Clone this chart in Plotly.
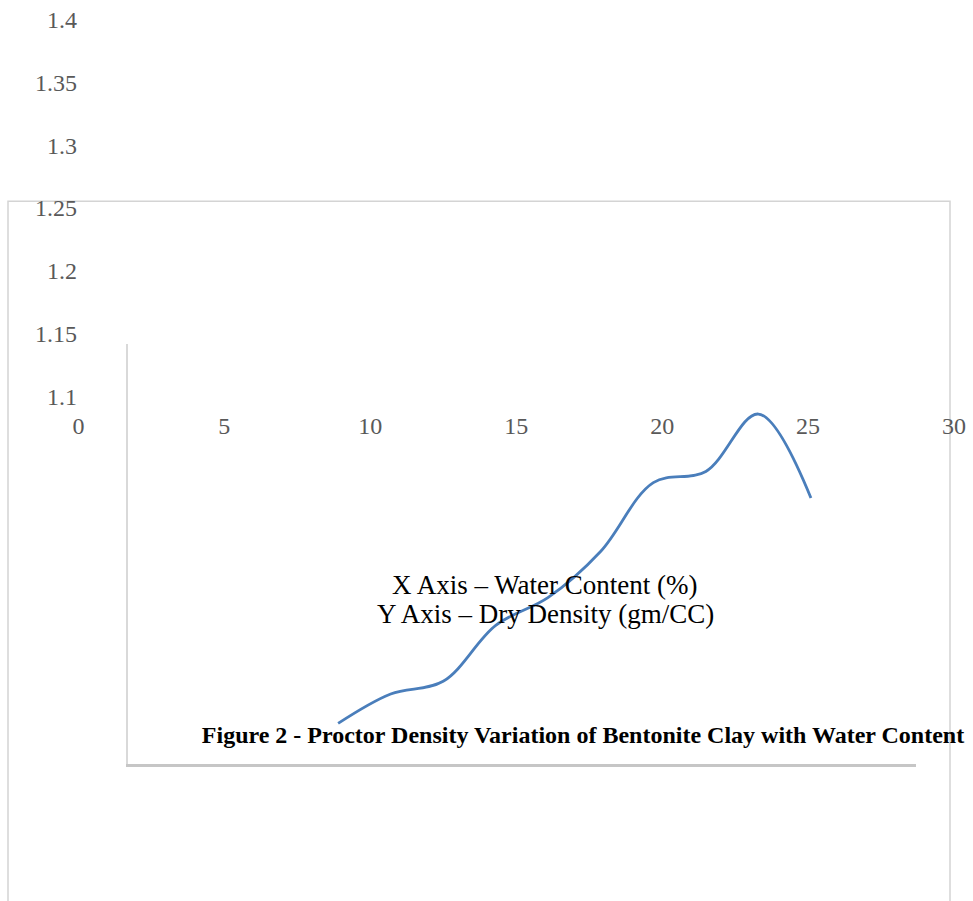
import plotly.graph_objects as go

W, H = 973, 901

# ---- data ----
water_content = [8, 10, 12, 14, 16, 18, 20, 22, 24, 26]
dry_density = [1.129, 1.150, 1.159, 1.199, 1.219, 1.252, 1.301, 1.309, 1.350, 1.290]
x_ticks = [0, 5, 10, 15, 20, 25, 30]
y_ticks = [1.1, 1.15, 1.2, 1.25, 1.3, 1.35, 1.4]
y_tick_text = ["1.1", "1.15", "1.2", "1.25", "1.3", "1.35", "1.4"]
title_text = "Figure 2 - Proctor Density Variation of Bentonite Clay with Water Content"
note_lines = ["X Axis – Water Content (%)", "Y Axis – Dry Density (gm/CC)"]


def px(x):
    """window x pixel -> paper fraction"""
    return x / W


def py(y):
    """window y pixel -> paper fraction"""
    return 1 - y / H


SERIF = "Liberation Serif, Times New Roman, serif"
TICK_GREY = "#595959"

fig = go.Figure()
# empty trace so the displaced label axes (x / y) are drawn
fig.add_trace(
    go.Scatter(x=[], y=[], xaxis="x", yaxis="y", mode="lines",
               hoverinfo="skip", showlegend=False)
)
fig.add_trace(
    go.Scatter(
        x=water_content,
        y=dry_density,
        xaxis="x2",
        yaxis="y2",
        mode="lines",
        line=dict(color="#4a7ebb", width=2.8, shape="spline", smoothing=1.0),
        hoverinfo="skip",
        showlegend=False,
    )
)

fig.update_layout(
    width=W,
    height=H,
    margin=dict(l=0, r=0, t=0, b=0),
    paper_bgcolor="white",
    plot_bgcolor="rgba(0,0,0,0)",
    showlegend=False,
    # displaced tick-label axes
    xaxis=dict(
        domain=[px(63.8), px(968.6)],
        range=[-0.5, 30.5],
        tickvals=x_ticks,
        anchor="free",
        position=py(409),
        showline=False,
        showgrid=False,
        zeroline=False,
        ticks="",
        ticklabeloverflow="allow",
        tickfont=dict(family=SERIF, size=24, color=TICK_GREY),
    ),
    yaxis=dict(
        domain=[py(402.4), py(7.6)],
        range=[1.095, 1.405],
        tickvals=y_ticks,
        ticktext=y_tick_text,
        anchor="free",
        position=px(77),
        showline=False,
        showgrid=False,
        zeroline=False,
        ticks="",
        ticklabeloverflow="allow",
        tickfont=dict(family=SERIF, size=24, color=TICK_GREY),
    ),
    # plot area holding the curve
    xaxis2=dict(
        domain=[px(128), px(916)],
        range=[0, 30],
        anchor="y2",
        showticklabels=False,
        showgrid=False,
        zeroline=False,
        ticks="",
        showline=True,
        linecolor="#c6c6c6",
        linewidth=2.5,
    ),
    yaxis2=dict(
        domain=[py(769), py(343)],
        range=[1.1, 1.4],
        anchor="x2",
        showticklabels=False,
        showgrid=False,
        zeroline=False,
        ticks="",
        showline=True,
        linecolor="#d9d9d9",
        linewidth=1.5,
    ),
    title=dict(
        text="<b>" + title_text + "</b>",
        x=px(583),
        y=py(739),
        xref="paper",
        yref="paper",
        xanchor="center",
        yanchor="middle",
        font=dict(family=SERIF, size=24, color="black"),
    ),
    shapes=[
        dict(
            type="rect",
            xref="paper",
            yref="paper",
            x0=px(8),
            x1=px(950),
            y0=-0.05,
            y1=py(198),
            line=dict(color="#d4d4d4", width=1.5),
            layer="below",
        )
    ],
    annotations=[
        dict(
            text=note_lines[0],
            x=px(545),
            y=py(587),
            xref="paper",
            yref="paper",
            xanchor="center",
            yanchor="middle",
            showarrow=False,
            font=dict(family=SERIF, size=27, color="black"),
        ),
        dict(
            text=note_lines[1],
            x=px(545),
            y=py(617),
            xref="paper",
            yref="paper",
            xanchor="center",
            yanchor="middle",
            showarrow=False,
            font=dict(family=SERIF, size=27, color="black"),
        ),
    ],
)

# place the figure flush with the window corner (drop the default 8px body margin)
fig.write_html(
    "out.html",
    config={"displayModeBar": False},
    post_script="document.body.style.margin='0px';",
)
